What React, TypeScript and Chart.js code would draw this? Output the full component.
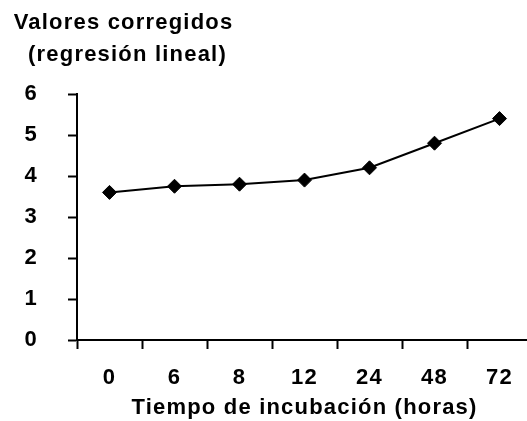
import React, { useEffect, useRef } from "react";
import { Chart, registerables } from "chart.js";

Chart.register(...registerables);

const categories: string[] = ["0", "6", "8", "12", "24", "48", "72"];
const values: number[] = [3.6, 3.75, 3.8, 3.9, 4.2, 4.8, 5.4];
const yMin = 0;
const yMax = 6;
const yStep = 1;
const titleLines: string[] = ["Valores corregidos", "(regresión lineal)"];
const xTitle = "Tiempo de incubación (horas)";

const FONT_FAMILY = "'Liberation Sans', Arial, Helvetica, sans-serif";
const FONT_SIZE = 22;
const SPACING = "1.2px";

const spacingPlugin = {
  id: "spacing",
  beforeDraw(chart: any) {
    (chart.ctx as any).letterSpacing = SPACING;
  },
};

const topTitlePlugin = {
  id: "topTitle",
  afterDraw(chart: any) {
    const ctx = chart.ctx;
    ctx.save();
    (ctx as any).letterSpacing = SPACING;
    ctx.font = `bold ${FONT_SIZE}px ${FONT_FAMILY}`;
    ctx.fillStyle = "#000";
    ctx.textAlign = "center";
    ctx.textBaseline = "alphabetic";
    ctx.fillText(titleLines[0], 123.5, 28.5);
    ctx.fillText(titleLines[1], 127.5, 60.5);
    ctx.restore();
  },
};

export default function App() {
  const ref = useRef<HTMLCanvasElement | null>(null);

  useEffect(() => {
    if (!ref.current) return;
    const font = { family: FONT_FAMILY, size: FONT_SIZE, weight: "bold" as const };
    const chart = new Chart(ref.current, {
      type: "line",
      data: {
        labels: categories,
        datasets: [
          {
            data: values,
            borderColor: "#000",
            backgroundColor: "#000",
            borderWidth: 2,
            pointStyle: "rectRot",
            pointRadius: 7,
            pointHoverRadius: 7,
            pointBorderWidth: 1,
            pointBorderColor: "#000",
            pointBackgroundColor: "#000",
            tension: 0,
            fill: false,
          },
        ],
      },
      plugins: [spacingPlugin, topTitlePlugin],
      options: {
        animation: false,
        responsive: false,
        maintainAspectRatio: false,
        events: [],
        layout: { padding: { top: 94, left: 0, right: 13, bottom: 0 } },
        plugins: {
          legend: { display: false },
          tooltip: { enabled: false },
          title: { display: false },
        },
        scales: {
          x: {
            type: "category",
            offset: true,
            afterFit: (s: any) => {
              s.height = 81;
            },
            grid: {
              offset: true,
              drawOnChartArea: false,
              drawTicks: true,
              tickLength: 9,
              tickWidth: 2,
              tickColor: "#000",
              color: "#000",
            },
            border: { display: true, color: "#000", width: 2 },
            ticks: {
              color: "#000",
              font,
              padding: 16,
              maxRotation: 0,
              autoSkip: false,
            },
            title: {
              display: true,
              text: xTitle,
              color: "#000",
              font,
              padding: { top: 0, bottom: 0 },
            },
          },
          y: {
            type: "linear",
            min: yMin,
            max: yMax,
            afterFit: (s: any) => {
              s.width = 77;
            },
            grid: {
              drawOnChartArea: false,
              drawTicks: true,
              tickLength: 9,
              tickWidth: 2,
              tickColor: "#000",
              color: "#000",
            },
            border: { display: true, color: "#000", width: 2 },
            ticks: {
              stepSize: yStep,
              color: "#000",
              font,
              padding: 30,
            },
          },
        },
      },
    });
    return () => chart.destroy();
  }, []);

  return (
    <div
      style={{
        position: "absolute",
        left: 0,
        top: 0,
        width: 527,
        height: 421,
        overflow: "hidden",
        background: "#fff",
      }}
    >
      <canvas ref={ref} width={545} height={421} style={{ display: "block" }} />
    </div>
  );
}
